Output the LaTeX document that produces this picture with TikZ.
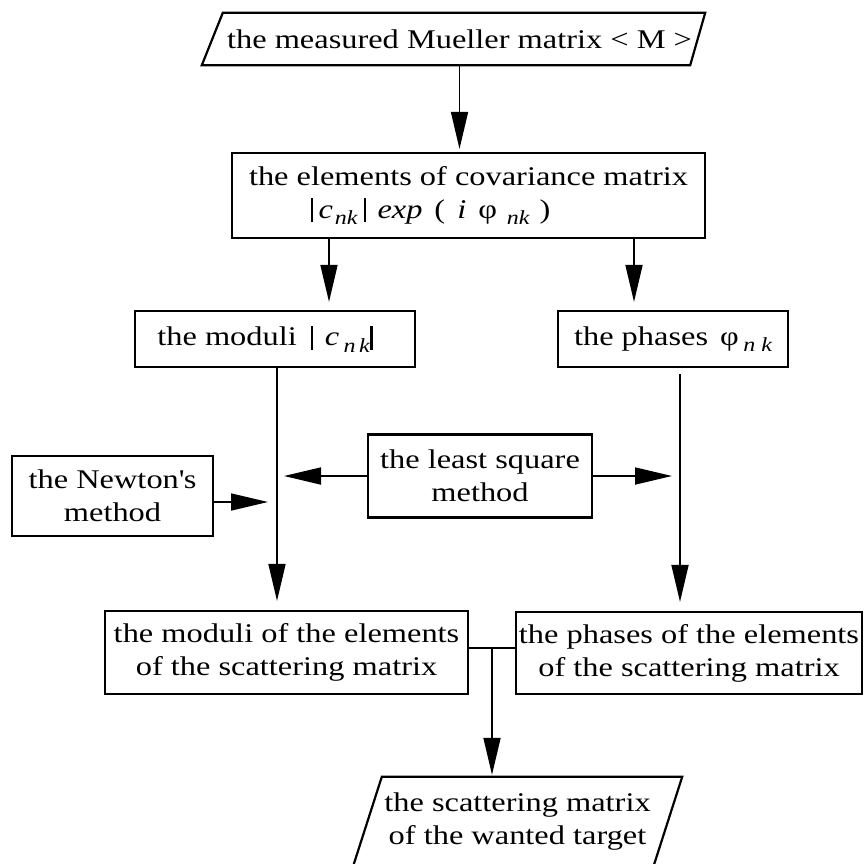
\documentclass[tikz,border=0pt]{standalone}
\usepackage{fontspec}
\setmainfont[FakeStretch=1.2]{Liberation Serif}
\usetikzlibrary{arrows.meta}

% lowered italic index and a plain vertical bar
\newcommand\idx[1]{\raisebox{-0.5ex}{\fontsize{20}{20}\selectfont\itshape #1}}
\newcommand\vbar[1][2pt]{\rule[-4pt]{#1}{24pt}}

\begin{document}
\begin{tikzpicture}[x=1pt,y=-1pt,
  font=\fontsize{27}{33}\selectfont,
  box/.style={draw, line width=2.2pt, inner sep=0pt, align=center},
  slot/.style={inner sep=0pt, align=center},
  outline/.style={line width=2.2pt, line join=miter},
  link/.style={line width=1.7pt},
  arr/.style={line width=1.7pt, -{Triangle[length=37pt,width=17pt]}},
]
\clip (0,0) rectangle (864,863);
\fill[white] (0,0) rectangle (864,863);

% column positions of the connectors
\coordinate (xa) at (329,0);
\coordinate (xb) at (634,0);
\coordinate (xl) at (277,0);
\coordinate (xr) at (680,0);
\coordinate (join) at (492,648);

% input (parallelogram)
\node[slot, minimum width=503pt, minimum height=52pt] (mueller) at (453.5,39)
  {\hspace*{12pt}the measured Mueller matrix < M >};
\draw[outline] (mueller.south west) -- ([xshift=21pt]mueller.north west)
  -- (mueller.north east) -- ([xshift=-15pt]mueller.south east) -- cycle;

\node[box, minimum width=473pt, minimum height=85pt] (cov) at (468.5,195.5)
  {the elements of covariance matrix\\
   \hbox to 440pt{\kern62pt\vbar\kern6pt\textit{c}\kern2pt\idx{nk}\kern6pt\vbar\kern12pt\textit{exp}\kern12pt(\kern12pt\textit{i}\kern12pt φ\kern10pt\idx{nk}\kern10pt)\hfil}};

\node[box, minimum width=280pt, minimum height=56pt] (moduli) at (275,339)
  {the moduli\hspace{14pt}\vbar\hspace{12pt}\textit{c}\,\idx{n\,k}\vbar[3pt]\hspace*{20pt}};
\node[box, minimum width=230pt, minimum height=56pt] (phases) at (673,339)
  {the phases\hspace{12pt}φ\,\idx{n\ k}};

\node[box, minimum width=201pt, minimum height=80pt] (newton) at (112.5,496)
  {the Newton\textquotesingle s\\method};
\node[box, minimum width=224pt, minimum height=83pt] (ls) at (480,476)
  {the least square\\method};

\node[box, minimum width=363pt, minimum height=83pt] (melem) at (286.5,652.5)
  {the moduli of the elements\\of the scattering matrix};
\node[box, minimum width=346pt, minimum height=82pt] (pelem) at (689,653)
  {the phases of the elements\\of the scattering matrix};

% output (parallelogram)
\node[slot, minimum width=329pt, minimum height=90pt] (target) at (517.5,822)
  {the scattering matrix\\of the wanted target};
\draw[outline] (target.south west) -- ([xshift=29pt]target.north west)
  -- (target.north east) -- ([xshift=-29pt]target.south east) -- cycle;

% connectors
\draw[arr, shorten >=3pt] ([xshift=6pt]mueller.south) -- ([xshift=6pt]mueller.south |- cov.north);
\draw[arr, shorten >=8pt] (cov.south -| xa) -- (moduli.north -| xa);
\draw[arr, shorten >=8pt] (cov.south -| xb) -- (phases.north -| xb);
\draw[arr, shorten >=9pt] (moduli.south -| xl) -- (melem.north -| xl);
\draw[arr, shorten >=9pt, shorten <=6pt] (phases.south -| xr) -- (pelem.north -| xr);
\draw[arr, shorten >=9pt] ([yshift=-6pt]newton.east) -- ([yshift=-6pt]newton.east -| xl);
\draw[arr, shorten >=7pt] (ls.west) -- (ls.west -| xl);
\draw[arr, shorten >=8pt] (ls.east) -- (ls.east -| xr);
\draw[link] (melem.east |- join) -- (pelem.west |- join);
\draw[arr, shorten >=2pt] (join) -- (join |- target.north);
\end{tikzpicture}
\end{document}
